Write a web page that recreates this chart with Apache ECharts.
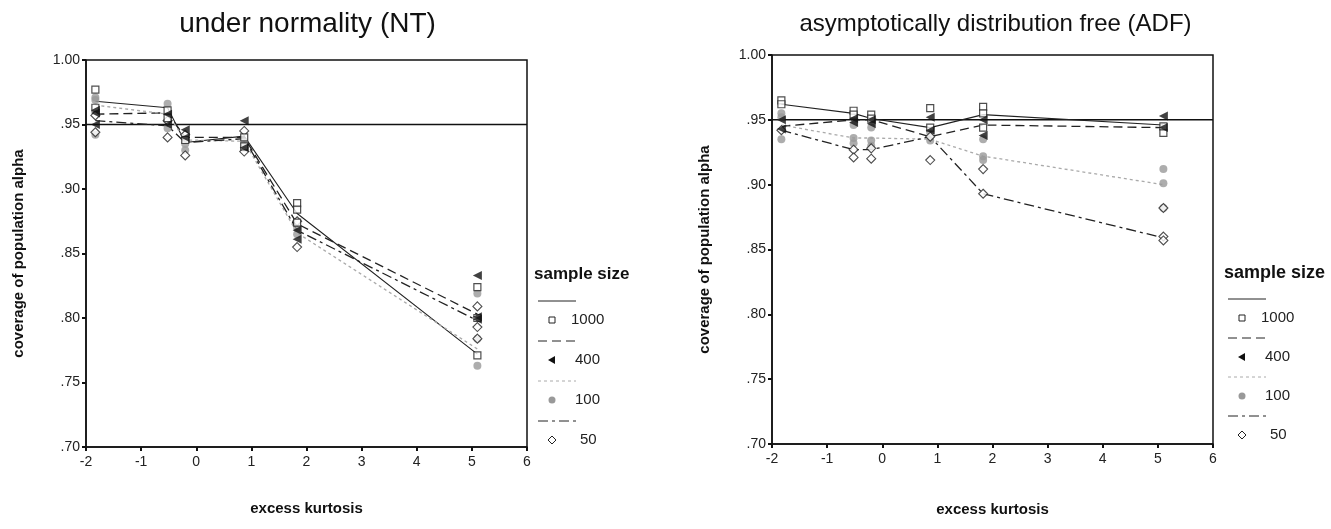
<!DOCTYPE html>
<html>
<head>
<meta charset="utf-8">
<script src="https://cdn.jsdelivr.net/npm/echarts@6/dist/echarts.min.js"></script>
<style>
html,body{margin:0;padding:0;background:#fff;}
#chart{width:1331px;height:529px;}
</style>
</head>
<body>
<div id="chart"></div>
<script>
// ---- data ----
const titles = ['under normality (NT)', 'asymptotically distribution free (ADF)'];
const sizes = ['1000', '400', '100', '50'];
const xPos = [-1.83, -0.52, -0.2, 0.87, 1.83, 5.1];
const REF = 0.95;
const xTicks = [-2, -1, 0, 1, 2, 3, 4, 5, 6];
const yTicks = [0.70, 0.75, 0.80, 0.85, 0.90, 0.95, 1.00];

// mean lines (NT)
const nt1000 = [0.968, 0.963, 0.936, 0.941, 0.881, 0.772];
const nt400  = [0.958, 0.959, 0.940, 0.940, 0.873, 0.803];
const nt100  = [0.965, 0.958, 0.938, 0.937, 0.866, 0.776];
const nt50   = [0.953, 0.949, 0.936, 0.939, 0.868, 0.798];
// mean lines (ADF)
const adf1000 = [0.962, 0.955, 0.951, 0.944, 0.954, 0.946];
const adf400  = [0.945, 0.950, 0.950, 0.937, 0.946, 0.944];
const adf100  = [0.946, 0.936, 0.936, 0.935, 0.922, 0.900];
const adf50   = [0.942, 0.927, 0.927, 0.937, 0.893, 0.859];

// individual conditions (NT)
const ntPts1000 = [[-1.83,0.977],[-1.83,0.963],[-0.52,0.961],[-0.52,0.955],[-0.2,0.938],[0.87,0.933],[0.87,0.940],[1.83,0.889],[1.83,0.884],[1.83,0.874],[5.1,0.824],[5.1,0.771],[5.1,0.800]];
const ntPts400  = [[-1.83,0.961],[-1.83,0.959],[-1.83,0.950],[-0.52,0.958],[-0.52,0.950],[-0.2,0.946],[-0.2,0.940],[0.87,0.953],[0.87,0.932],[1.83,0.868],[1.83,0.861],[5.1,0.833],[5.1,0.801],[5.1,0.799]];
const ntPts100  = [[-1.83,0.971],[-1.83,0.969],[-1.83,0.942],[-0.52,0.966],[-0.52,0.947],[-0.2,0.935],[-0.2,0.930],[0.87,0.936],[0.87,0.932],[1.83,0.870],[1.83,0.865],[5.1,0.819],[5.1,0.784],[5.1,0.763]];
const ntPts50   = [[-1.83,0.944],[-1.83,0.957],[-0.52,0.940],[-0.52,0.953],[-0.2,0.942],[-0.2,0.926],[0.87,0.945],[0.87,0.929],[1.83,0.875],[1.83,0.855],[5.1,0.809],[5.1,0.793],[5.1,0.784]];
// individual conditions (ADF)
const adfPts1000 = [[-1.83,0.965],[-1.83,0.962],[-0.52,0.957],[-0.52,0.954],[-0.2,0.954],[-0.2,0.951],[0.87,0.959],[0.87,0.944],[1.83,0.960],[1.83,0.955],[1.83,0.944],[5.1,0.940],[5.1,0.945]];
const adfPts400  = [[-1.83,0.950],[-1.83,0.943],[-0.52,0.951],[-0.52,0.948],[-0.2,0.950],[-0.2,0.947],[0.87,0.952],[0.87,0.942],[1.83,0.950],[1.83,0.938],[5.1,0.953],[5.1,0.944]];
const adfPts100  = [[-1.83,0.955],[-1.83,0.952],[-1.83,0.935],[-0.52,0.946],[-0.52,0.936],[-0.52,0.932],[-0.2,0.944],[-0.2,0.934],[-0.2,0.930],[0.87,0.940],[0.87,0.934],[1.83,0.935],[1.83,0.922],[1.83,0.919],[5.1,0.912],[5.1,0.901],[5.1,0.882]];
const adfPts50   = [[-1.83,0.942],[-0.52,0.927],[-0.52,0.921],[-0.2,0.928],[-0.2,0.920],[0.87,0.937],[0.87,0.919],[1.83,0.912],[1.83,0.893],[5.1,0.882],[5.1,0.860],[5.1,0.857]];

// ---- styles ----
const FONT = '"Liberation Sans", Arial, sans-serif';
const lineStyles = [
  {color:'#222', type:'solid', width:1.1},
  {color:'#222', type:[9,5], width:1.3},
  {color:'#aaa', type:[3,3], width:1.3},
  {color:'#222', type:[10,4,3,4], width:1.3}
];
const symStyles = [
  {symbol:'rect', size:7, rotate:0, item:{color:'#fff', borderColor:'#222', borderWidth:1.2}},
  {symbol:'triangle', size:9, rotate:90, item:{color:'#111'}},
  {symbol:'circle', size:8, rotate:0, item:{color:'#999'}},
  {symbol:'diamond', size:9, rotate:0, item:{color:'#fff', borderColor:'#222', borderWidth:1.1}}
];

const grids = [
  {left:86, top:60, width:441, height:387},
  {left:772, top:55, width:441, height:389}
];
const titleSizes = [28, 24];
const means = [[nt1000, nt400, nt100, nt50],[adf1000, adf400, adf100, adf50]];
const pts = [[ntPts1000, ntPts400, ntPts100, ntPts50],[adfPts1000, adfPts400, adfPts100, adfPts50]];

function yFmt(v){ const r = Math.round(v*100)/100; return r >= 1 ? r.toFixed(2) : r.toFixed(2).replace(/^0/, ''); }

const option = {
  backgroundColor:'#fff',
  animation:false,
  title: titles.map((t,i)=>({
    text:t, left: grids[i].left + grids[i].width/2 - (i===0 ? 4 : 2), top: i===0 ? 5 : 7, textAlign:'center',
    textStyle:{fontFamily:FONT, fontSize:titleSizes[i], fontWeight:'normal', color:'#111'}
  })),
  grid: grids.map(g=>Object.assign({show:true, borderColor:'#111', borderWidth:1.5, backgroundColor:'transparent'}, g)),
  xAxis: grids.map((g,i)=>({
    gridIndex:i, type:'value', min:xTicks[0], max:xTicks[xTicks.length-1], interval:1,
    name:'excess kurtosis', nameLocation:'middle', nameGap: i===0 ? 54 : 58,
    nameTextStyle:{fontFamily:FONT, fontSize:15, fontWeight:'bold', color:'#111'},
    axisLine:{show:true, onZero:false, lineStyle:{color:'#111', width:1.5}},
    axisTick:{show:true, inside:false, length:4, lineStyle:{color:'#111', width:2}},
    axisLabel:{fontFamily:FONT, fontSize:14, color:'#222', margin:8},
    splitLine:{show:false}
  })),
  yAxis: grids.map((g,i)=>({
    gridIndex:i, type:'value', min:yTicks[0], max:yTicks[yTicks.length-1], interval:0.05,
    name:'coverage of population alpha', nameLocation:'middle', nameGap:60,
    nameTextStyle:{fontFamily:FONT, fontSize:15, fontWeight:'bold', color:'#111'},
    axisLine:{show:true, onZero:false, lineStyle:{color:'#111', width:1.5}},
    axisTick:{show:true, inside:false, length:4, lineStyle:{color:'#111', width:2}},
    axisLabel:{fontFamily:FONT, fontSize:14, color:'#222', margin:6, formatter:yFmt},
    splitLine:{show:false}
  })),
  series: [],
  graphic: []
};

[0,1].forEach(p=>{
  option.series.push({
    type:'line', xAxisIndex:p, yAxisIndex:p, silent:true, showSymbol:false, z:1,
    data:[[xTicks[0], REF],[xTicks[xTicks.length-1], REF]],
    lineStyle:{color:'#111', width:1.5}
  });
  sizes.forEach((s,k)=>{
    option.series.push({
      name:s, type:'line', xAxisIndex:p, yAxisIndex:p, showSymbol:false, z:2,
      data: xPos.map((x,j)=>[x, means[p][k][j]]),
      lineStyle: lineStyles[k]
    });
  });
  [2,3,0,1].forEach(k=>{
    option.series.push({
      name:sizes[k], type:'scatter', xAxisIndex:p, yAxisIndex:p, z:3,
      symbol:symStyles[k].symbol, symbolSize:symStyles[k].size, symbolRotate:symStyles[k].rotate,
      itemStyle:symStyles[k].item,
      data: pts[p][k]
    });
  });
});

// legends built from sizes
const legendPos = [
  {x:538, y:266, lineTop:301, step:40, font:17},
  {x:1228, y:264, lineTop:299, step:39, font:18}
];
legendPos.forEach(L=>{
  option.graphic.push({type:'text', left:L.x-4, top:L.y, style:{text:'sample size', font:'bold '+L.font+'px '+FONT, fill:'#111'}});
  sizes.forEach((s,k)=>{
    const ly = L.lineTop + k*L.step;
    const ls = lineStyles[k];
    option.graphic.push({type:'line', shape:{x1:L.x, y1:ly, x2:L.x+38, y2:ly},
      style:{stroke: ls.color, lineWidth:1, lineDash: ls.type==='solid'? null : ls.type}});
    const my = ly + 19, mx = L.x + 14;
    let shape;
    if(k===0) shape={type:'rect', shape:{x:mx-3, y:my-3, width:6, height:6}, style:{fill:'#fff', stroke:'#222', lineWidth:1}};
    if(k===1) shape={type:'polygon', shape:{points:[[mx-4,my],[mx+3,my-4],[mx+3,my+4]]}, style:{fill:'#111'}};
    if(k===2) shape={type:'circle', shape:{cx:mx, cy:my, r:3.5}, style:{fill:'#999'}};
    if(k===3) shape={type:'polygon', shape:{points:[[mx,my-4],[mx+4,my],[mx,my+4],[mx-4,my]]}, style:{fill:'#fff', stroke:'#222', lineWidth:1}};
    option.graphic.push(shape);
    option.graphic.push({type:'text', left: L.x + (k===3 ? 42 : (k===0 ? 33 : 37)), top: my-8,
      style:{text:s, font:'15px '+FONT, fill:'#222'}});
  });
});

const chart = echarts.init(document.getElementById('chart'), null, {renderer:'canvas'});
chart.setOption(option);
</script>
</body>
</html>
